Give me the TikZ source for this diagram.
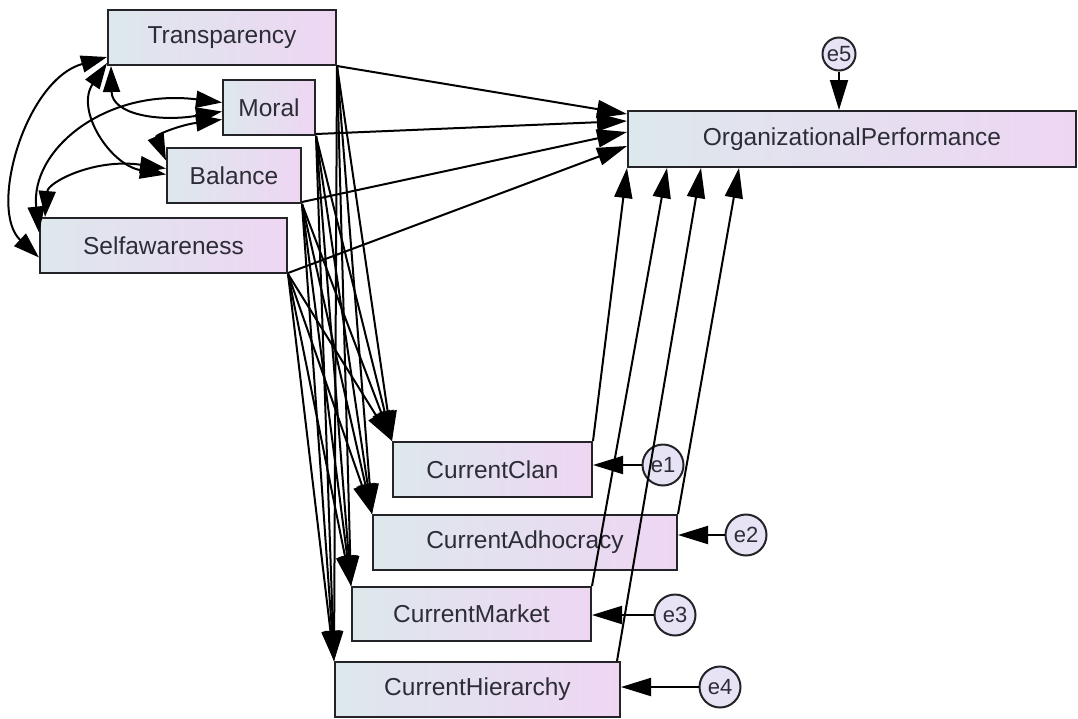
\documentclass[tikz,border=0pt]{standalone}
\usepackage{fontspec}
\setmainfont{Liberation Sans}
\usetikzlibrary{arrows.meta,calc}
\definecolor{boxL}{RGB}{221,232,236}
\definecolor{boxR}{RGB}{238,214,243}
\definecolor{errF}{RGB}{232,226,245}
\definecolor{edge}{RGB}{35,35,40}
\definecolor{txt}{RGB}{45,45,55}
\tikzset{
  box/.style={rectangle, draw=edge, line width=2pt, left color=boxL, right color=boxR,
    inner sep=0pt, minimum height=55pt, text=txt, font=\fontsize{24.5}{29}\selectfont},
  err/.style={circle, draw=edge, line width=2pt, fill=errF, inner sep=0pt,
    minimum size=41pt, text=txt, font=\fontsize{22}{26}\selectfont},
  arr/.style={line width=2pt, draw=black, -{Triangle[length=30pt,width=18pt]}},
  cov/.style={line width=2pt, draw=black, {Triangle[length=26pt,width=17pt]}-{Triangle[length=26pt,width=17pt]}}
}
\begin{document}
\begin{tikzpicture}[x=1pt,y=-1pt]
\useasboundingbox (0,0) rectangle (1078,718);
% variables
\node[box, minimum width=228pt] (trans) at (222,37.5) {Transparency};
\node[box, minimum width=92pt]  (moral) at (269,107.5) {Moral};
\node[box, minimum width=134pt] (bal)   at (234,175.5) {Balance};
\node[box, minimum width=247pt] (self)  at (163.5,245.5) {Selfawareness};
\node[box, minimum width=448pt, minimum height=56pt] (org) at (852,139) {OrganizationalPerformance};
\node[box, minimum width=199pt] (clan)  at (492.5,469.5) {CurrentClan};
\node[box, minimum width=304pt] (adho)  at (525,542.5) {CurrentAdhocracy};
\node[box, minimum width=239pt, minimum height=54pt] (mark) at (471.5,614) {CurrentMarket};
\node[box, minimum width=285pt] (hier)  at (477.5,689.5) {CurrentHierarchy};
% errors
\node[err] (e1) at (663,465) {e1};
\node[err] (e2) at (746,535) {e2};
\node[err] (e3) at (675,615) {e3};
\node[err] (e4) at (720,687) {e4};
\node[err, minimum size=33pt] (e5) at (839,54) {e5};
% predictors -> mediators
\foreach \p in {trans,moral,bal,self}{
  \foreach \m in {clan,adho,mark,hier}{
    \draw[arr] (\p.south east) -- (\m.north west);
  }
}
% predictors -> org
\draw[arr] (trans.south east) -- ($(org.north west)+(0,4)$);
\draw[arr] ($(moral.south east)+(0,-2)$) -- ($(org.north west)+(0,11)$);
\draw[arr] ($(bal.south east)+(0,-2)$) -- ($(org.north west)+(0,22)$);
\draw[arr] ($(self.south east)+(0,-1)$) -- ($(org.north west)+(0,36)$);
% mediators -> org
\draw[arr] (clan.north east) -- (org.south west);
\draw[arr] (mark.north east) -- ($(org.south west)+(40,0)$);
\draw[arr] ($(hier.north east)+(-4,0)$) -- ($(org.south west)+(74,0)$);
\draw[arr] (adho.north east) -- ($(org.south west)+(112,0)$);
% errors -> variables
\draw[arr] (e1) -- (e1 -| clan.east);
\draw[arr] (e2) -- (e2 -| adho.east);
\draw[arr] (e3) -- (e3 -| mark.east);
\draw[arr] (e4) -- (e4 -| hier.east);
\draw[arr] (e5) -- (e5 |- org.north);
% covariances
\draw[cov] ($(trans.south west)+(4,0)$) .. controls (112,115) and (160,122) .. ($(moral.west)+(0,4)$);
\draw[cov] ($(trans.south west)+(0,-3)$) .. controls (75,110) and (110,165) .. ($(bal.west)+(0,-1)$);
\draw[cov] ($(trans.south west)+(0,-9)$) .. controls (25,80) and (-12,210) .. ($(self.west)+(0,12)$);
\draw[cov] ($(moral.west)+(0,-5)$) .. controls (105,88) and (30,150) .. ($(self.west)+(0,-13)$);
\draw[cov] ($(moral.west)+(0,12)$) .. controls (180,125) and (155,135) .. ($(bal.west)+(0,-15)$);
\draw[cov] ($(bal.west)+(0,-7)$) .. controls (95,158) and (48,182) .. ($(self.north west)+(6,0)$);
\end{tikzpicture}
\end{document}
